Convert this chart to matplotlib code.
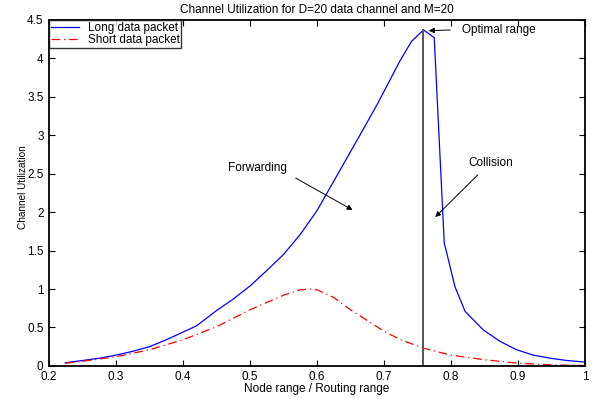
import matplotlib
matplotlib.use("Agg")
import matplotlib.pyplot as plt

plt.rcParams['font.family'] = ['Liberation Sans', 'DejaVu Sans']

# long data packet (blue, solid)
long_x = [0.224, 0.25, 0.275, 0.30, 0.325, 0.35, 0.375, 0.40, 0.42, 0.45,
          0.475, 0.50, 0.525, 0.55, 0.575, 0.60, 0.615, 0.632, 0.664, 0.691,
          0.724, 0.741, 0.759, 0.775, 0.790, 0.806, 0.821, 0.848, 0.873,
          0.898, 0.923, 0.948, 0.973, 1.0]
long_y = [0.04, 0.07, 0.10, 0.14, 0.19, 0.25, 0.34, 0.44, 0.52, 0.72,
          0.87, 1.04, 1.24, 1.45, 1.71, 2.02, 2.25, 2.51, 3.00, 3.42,
          3.97, 4.22, 4.37, 4.27, 1.60, 1.03, 0.71, 0.47, 0.32,
          0.21, 0.14, 0.10, 0.07, 0.05]

# short data packet (red, dash-dot)
short_x = [0.224, 0.25, 0.30, 0.35, 0.40, 0.45, 0.50, 0.55, 0.575, 0.59,
           0.60, 0.625, 0.65, 0.675, 0.70, 0.725, 0.759, 0.80, 0.85, 0.90,
           0.95, 1.0]
short_y = [0.035, 0.06, 0.12, 0.21, 0.34, 0.51, 0.73, 0.92, 0.99, 1.0,
           0.99, 0.89, 0.73, 0.59, 0.45, 0.34, 0.23, 0.14, 0.08, 0.035,
           0.013, 0.005]

optimal_x = 0.759
optimal_y = 4.37

xticks = [0.2, 0.3, 0.4, 0.5, 0.6, 0.7, 0.8, 0.9, 1.0]
xticklabels = ['0.2', '0.3', '0.4', '0.5', '0.6', '0.7', '0.8', '0.9', '1']
yticks = [0, 0.5, 1, 1.5, 2, 2.5, 3, 3.5, 4, 4.5]
yticklabels = ['0', '0.5', '1', '1.5', '2', '2.5', '3', '3.5', '4', '4.5']

FS = 8.5

fig = plt.figure(figsize=(5.92, 3.99), dpi=100)
ax = fig.add_axes([0.083, 0.083, 0.905, 0.867])

ax.plot(long_x, long_y, color='#0000ff', lw=0.9, label='Long data packet')
ax.plot(short_x, short_y, color='#ff0000', lw=0.9, linestyle=(0, (7, 3, 1, 3)),
        label='Short data packet')
ax.plot([optimal_x, optimal_x], [0, optimal_y], color='#555555', lw=1.4)

ax.set_xlim(0.2, 1.0)
ax.set_ylim(0, 4.5)
ax.set_xticks(xticks)
ax.set_xticklabels(xticklabels)
ax.set_yticks(yticks)
ax.set_yticklabels(yticklabels)
ax.tick_params(direction='in', length=4, width=0.8, top=True, right=True,
               labelsize=FS)
ax.tick_params(axis='x', pad=4)
ax.tick_params(axis='y', pad=4)
for s in ax.spines.values():
    s.set_linewidth(1.3)

ax.set_title('Channel Utilization for D=20 data channel and M=20', fontsize=FS, pad=5)
ax.set_xlabel('Node range / Routing range', fontsize=FS, labelpad=0)
ax.set_ylabel('Channel Utilization', fontsize=7.2)
ax.yaxis.set_label_coords(-0.04, 0.516)

arrow = dict(arrowstyle='-|>', color='black', lw=0.7, mutation_scale=8)
ax.annotate('', xy=(0.7627, 4.36), xytext=(0.803, 4.37), arrowprops=arrow)
ax.text(0.816, 4.37, 'Optimal range', fontsize=FS, va='center', ha='left')
ax.annotate('', xy=(0.6567, 2.01), xytext=(0.5646, 2.46), arrowprops=arrow)
ax.text(0.511, 2.575, 'Forwarding', fontsize=FS, va='center', ha='center')
ax.annotate('', xy=(0.7736, 1.91), xytext=(0.843, 2.51), arrowprops=arrow)
ax.text(0.859, 2.64, 'Collision', fontsize=FS, va='center', ha='center')

leg = ax.legend(loc='upper left', fontsize=FS, frameon=True, fancybox=False,
                borderaxespad=0, handlelength=2.4, borderpad=0.15,
                labelspacing=0.05, handletextpad=0.7)
leg.get_frame().set_edgecolor('black')
leg.get_frame().set_linewidth(1.0)

fig.savefig('out.png', dpi=100)
